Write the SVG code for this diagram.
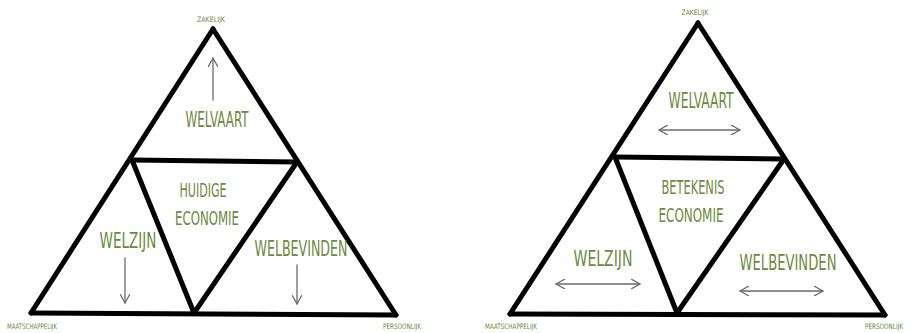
<svg xmlns="http://www.w3.org/2000/svg" width="914" height="333" viewBox="0 0 914 333">
<style>
.edge{stroke:#000;stroke-width:5;stroke-linecap:round;fill:none}
.arr{stroke:#6a6a6a;stroke-width:1.3;fill:none;stroke-linecap:round;stroke-linejoin:round}
.lbl{font-family:"Liberation Sans Narrow","DejaVu Sans Condensed","Liberation Sans",sans-serif;fill:#6b8a40;text-anchor:middle}
.big{font-size:21px}
.mid{font-size:19px}
.small{font-size:7.5px}
</style>
<defs>
<marker id="open" viewBox="0 0 10 10" refX="9" refY="5" markerWidth="10" markerHeight="10" markerUnits="userSpaceOnUse" orient="auto-start-reverse">
<path d="M0,0 L9,5 L0,10" class="arr"/>
</marker>
</defs>
<rect width="914" height="333" fill="#fff"/>

<g id="connectors">
<g id="left-edges">
<line class="edge" x1="213" y1="29" x2="31" y2="313"/>
<line class="edge" x1="213" y1="29" x2="396" y2="315"/>
<line class="edge" x1="31" y1="313" x2="396" y2="315"/>
<line class="edge" x1="132" y1="160" x2="297" y2="162"/>
<line class="edge" x1="132" y1="160" x2="194" y2="313"/>
<line class="edge" x1="297" y1="162" x2="194" y2="313"/>
</g>
<g id="left-arrows">
<line class="arr" x1="213" y1="100" x2="213" y2="58" marker-end="url(#open)"/>
<line class="arr" x1="125" y1="258" x2="125" y2="303" marker-end="url(#open)"/>
<line class="arr" x1="297" y1="265" x2="297" y2="304" marker-end="url(#open)"/>
</g>
<g id="right-edges">
<line class="edge" x1="698" y1="23" x2="510" y2="314"/>
<line class="edge" x1="698" y1="23" x2="885" y2="315"/>
<line class="edge" x1="510" y1="314" x2="885" y2="315"/>
<line class="edge" x1="615" y1="157" x2="784" y2="159"/>
<line class="edge" x1="615" y1="157" x2="677" y2="313"/>
<line class="edge" x1="784" y1="159" x2="677" y2="313"/>
</g>
<g id="right-arrows">
<line class="arr" x1="659" y1="130" x2="740" y2="130" marker-start="url(#open)" marker-end="url(#open)"/>
<line class="arr" x1="556" y1="284" x2="640" y2="284" marker-start="url(#open)" marker-end="url(#open)"/>
<line class="arr" x1="740" y1="291" x2="823" y2="291" marker-start="url(#open)" marker-end="url(#open)"/>
</g>
</g>

<g id="left-axes">
<text class="lbl small" x="211" y="22" textLength="28" lengthAdjust="spacingAndGlyphs">ZAKELIJK</text>
<text class="lbl small" x="32" y="329" textLength="50" lengthAdjust="spacingAndGlyphs">MAATSCHAPPELIJK</text>
<text class="lbl small" x="402" y="329" textLength="38" lengthAdjust="spacingAndGlyphs">PERSOONLIJK</text>
</g>
<g id="left-welvaart"><text class="lbl big" x="217" y="127" textLength="63" lengthAdjust="spacingAndGlyphs">WELVAART</text></g>
<g id="left-centre">
<text class="lbl mid" x="203" y="197" textLength="47" lengthAdjust="spacingAndGlyphs">HUIDIGE</text>
<text class="lbl mid" x="207" y="225" textLength="64" lengthAdjust="spacingAndGlyphs">ECONOMIE</text>
</g>
<g id="left-welzijn"><text class="lbl big" x="128" y="248" textLength="57" lengthAdjust="spacingAndGlyphs">WELZIJN</text></g>
<g id="left-welbevinden"><text class="lbl big" x="301" y="256" textLength="93" lengthAdjust="spacingAndGlyphs">WELBEVINDEN</text></g>

<g id="right-axes">
<text class="lbl small" x="695" y="15" textLength="27" lengthAdjust="spacingAndGlyphs">ZAKELIJK</text>
<text class="lbl small" x="511" y="329" textLength="52" lengthAdjust="spacingAndGlyphs">MAATSCHAPPELIJK</text>
<text class="lbl small" x="884" y="329" textLength="38" lengthAdjust="spacingAndGlyphs">PERSOONLIJK</text>
</g>
<g id="right-welvaart"><text class="lbl big" x="701" y="108" textLength="65" lengthAdjust="spacingAndGlyphs">WELVAART</text></g>
<g id="right-centre">
<text class="lbl mid" x="693" y="194" textLength="63" lengthAdjust="spacingAndGlyphs">BETEKENIS</text>
<text class="lbl mid" x="691" y="222" textLength="65" lengthAdjust="spacingAndGlyphs">ECONOMIE</text>
</g>
<g id="right-welzijn"><text class="lbl big" x="603" y="266" textLength="59" lengthAdjust="spacingAndGlyphs">WELZIJN</text></g>
<g id="right-welbevinden"><text class="lbl big" x="788" y="270" textLength="97" lengthAdjust="spacingAndGlyphs">WELBEVINDEN</text></g>
</svg>
